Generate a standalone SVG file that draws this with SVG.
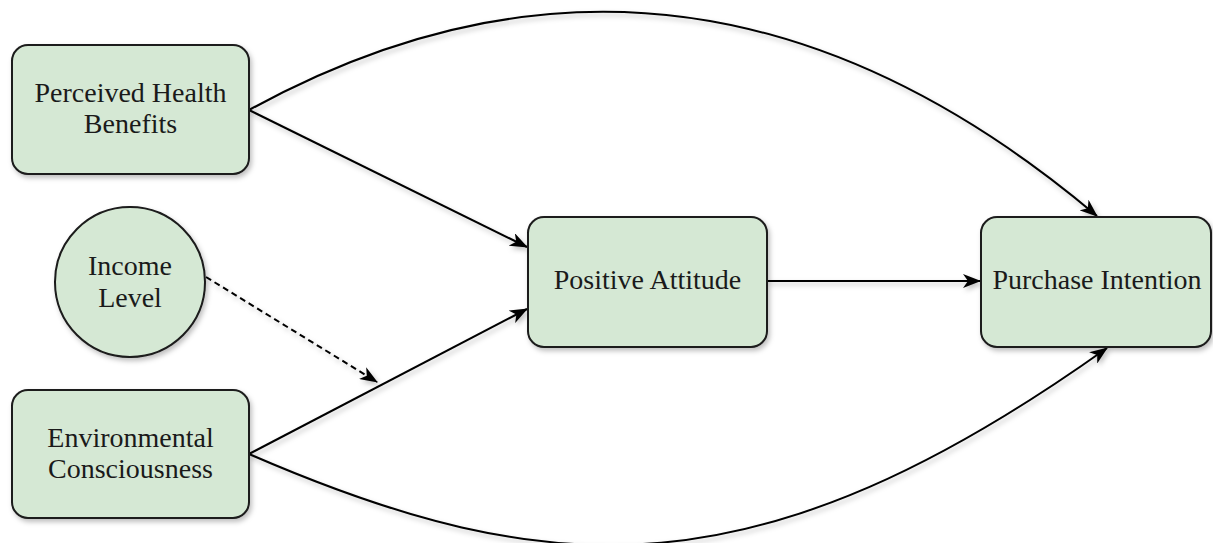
<svg xmlns="http://www.w3.org/2000/svg" width="1213" height="543" viewBox="0 0 1213 543">
<style>
.node{fill:#d5e8d4;stroke:#1a1a1a;stroke-width:2;filter:url(#sh)}
.lbl{font-size:28px;fill:#1a1a1a;text-anchor:middle}
.edge{fill:none;stroke:#000;stroke-width:2;marker-end:url(#arr)}
.dash{stroke-dasharray:6 4}
</style>
<defs>
<filter id="sh" x="-10%" y="-10%" width="125%" height="130%">
<feDropShadow dx="2" dy="3" stdDeviation="2.5" flood-color="#000" flood-opacity="0.25"/>
</filter>
<marker id="arr" markerUnits="userSpaceOnUse" markerWidth="18" markerHeight="14" refX="17" refY="7" orient="auto">
<path d="M0,0 L18,7 L0,14 L5,7 z" fill="#000"/>
</marker>
</defs>
<rect width="1213" height="543" fill="#fff"/>
<g id="connectors" filter="url(#sh)">
<path class="edge" d="M249,110 L527,247"/>
<path class="edge" d="M249,454 L527,309"/>
<path class="edge dash" d="M206,277 L377,382"/>
<path class="edge" d="M767,281 L980,281"/>
<path class="edge" d="M249,110 Q687,-130 1097,216"/>
<path class="edge" d="M249,454 C551,585 760,595 1107,348"/>
</g>
<g font-family="Liberation Serif, serif">
<g id="perceived-health-benefits">
<rect class="node" x="12" y="45" width="237" height="129" rx="16"/>
<text class="lbl" x="130.5" y="102">Perceived Health</text>
<text class="lbl" x="130.5" y="133">Benefits</text>
</g>
<g id="income-level">
<circle class="node" cx="130" cy="282" r="75"/>
<text class="lbl" x="130" y="275">Income</text>
<text class="lbl" x="130" y="307">Level</text>
</g>
<g id="environmental-consciousness">
<rect class="node" x="12" y="390" width="237" height="128" rx="16"/>
<text class="lbl" x="130.5" y="447">Environmental</text>
<text class="lbl" x="130.5" y="478">Consciousness</text>
</g>
<g id="positive-attitude">
<rect class="node" x="528" y="217" width="239" height="130" rx="16"/>
<text class="lbl" x="647.5" y="289">Positive Attitude</text>
</g>
<g id="purchase-intention">
<rect class="node" x="981" y="217" width="230" height="130" rx="16"/>
<text class="lbl" x="1097" y="289">Purchase Intention</text>
</g>
</g>
</svg>
